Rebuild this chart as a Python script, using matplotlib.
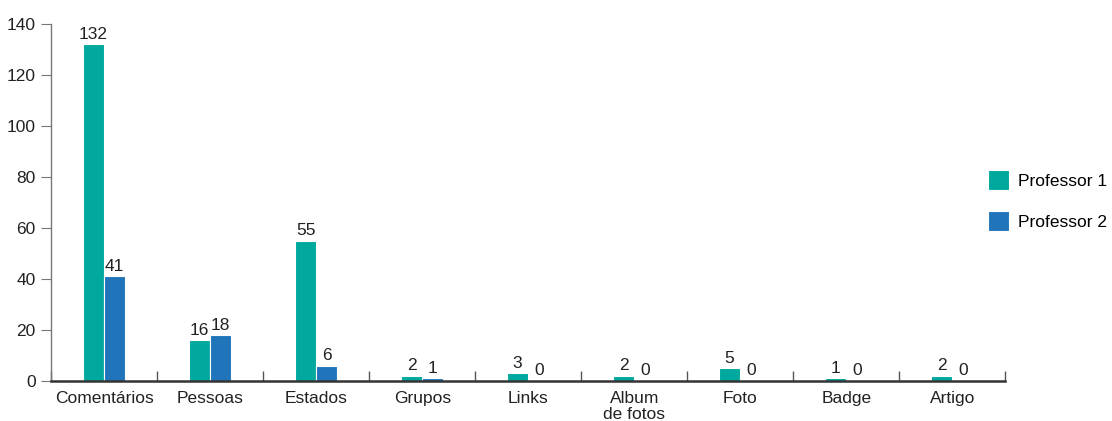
import numpy as np
import matplotlib.pyplot as plt

categories = ["Comentários", "Pessoas", "Estados", "Grupos", "Links",
              "Album\nde fotos", "Foto", "Badge", "Artigo"]
professor1 = [132, 16, 55, 2, 3, 2, 5, 1, 2]
professor2 = [41, 18, 6, 1, 0, 0, 0, 0, 0]
series_names = ["Professor 1", "Professor 2"]
yticks = [0, 20, 40, 60, 80, 100, 120, 140]

teal = "#00A89D"
blue = "#1F74BA"

plt.rcParams["font.family"] = ["Liberation Sans", "DejaVu Sans"]

fig = plt.figure(figsize=(11.12, 4.21), dpi=100)
ax = fig.add_axes([0.046, 0.095, 0.858, 0.848])

x = np.arange(len(categories))
w = 0.2
ax.bar(x - w / 2, professor1, w, color=teal, edgecolor="white",
       linewidth=0.8, label=series_names[0])
ax.bar(x + w / 2, professor2, w, color=blue, edgecolor="white",
       linewidth=0.8, label=series_names[1])

for xi, v in zip(x - w / 2, professor1):
    ax.text(xi, v + 1, str(v), ha="center", va="bottom", fontsize=12.5, color="#222")
for xi, v in zip(x + w / 2, professor2):
    ax.text(xi, v + 1, str(v), ha="center", va="bottom", fontsize=12.5, color="#222")

ax.set_xlim(-0.5, len(categories) - 0.5)
ax.set_ylim(0, 140)
ax.set_yticks(yticks)
ax.set_xticks(x)
ax.set_xticklabels(categories, fontsize=12.5, color="#222", va="top",
                   linespacing=1.1)
ax.set_xticks(np.arange(len(categories) + 1) - 0.5, minor=True)
ax.tick_params(axis="x", which="major", length=0, pad=7)
ax.tick_params(axis="x", which="minor", direction="in", length=7,
               color="#555", width=1)
ax.tick_params(axis="y", length=7, color="#777", labelsize=12.5,
               labelcolor="#222", pad=4)

for s in ["top", "right"]:
    ax.spines[s].set_visible(False)
ax.spines["left"].set_color("#777")
ax.spines["left"].set_linewidth(1)
ax.spines["bottom"].set_color("#333")
ax.spines["bottom"].set_linewidth(1.8)

ax.legend(loc="upper left", bbox_to_anchor=(0.982, 0.59), frameon=False,
          fontsize=12.5, handlelength=1.2, handleheight=1.4,
          labelspacing=1.2, handletextpad=0.55, borderaxespad=0,
          borderpad=0)

fig.savefig("out.png", dpi=100)
